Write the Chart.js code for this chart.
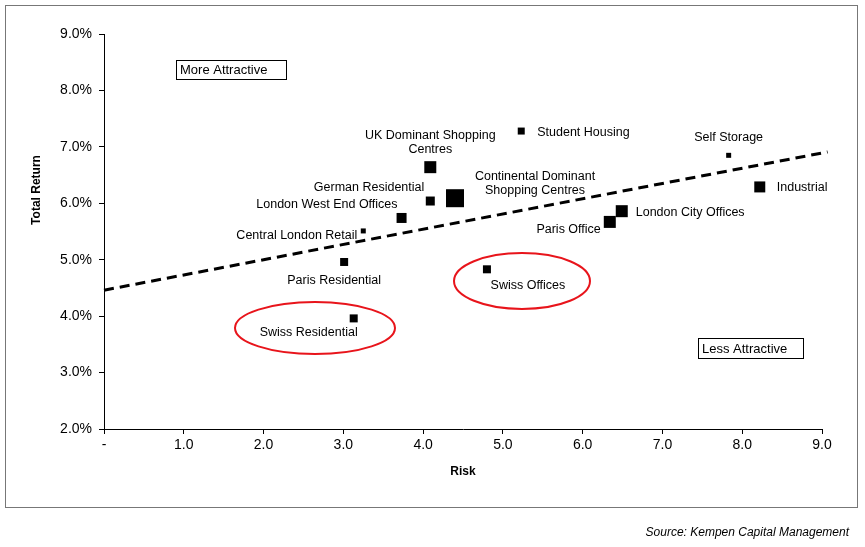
<!DOCTYPE html>
<html><head><meta charset="utf-8">
<script src="https://cdn.jsdelivr.net/npm/chart.js@4/dist/chart.umd.min.js"></script>
<style>html,body{margin:0;padding:0;background:#fff}#wrap{width:865px;height:547px}</style>
</head><body><div id="wrap"><canvas id="c"></canvas></div>
<script>
const sectors = ['UK Dominant Shopping\nCentres','Student Housing','Self Storage','Industrial','London City Offices','Paris Office',
  'Continental Dominant\nShopping Centres','German Residential','London West End Offices','Central London Retail',
  'Paris Residential','Swiss Offices','Swiss Residential'];
const risk = [4.09, 5.23, 7.83, 8.22, 6.49, 6.34, 4.40, 4.09, 3.73, 3.25, 3.01, 4.80, 3.13];
const totalReturn = [6.64, 7.28, 6.85, 6.29, 5.86, 5.67, 6.09, 6.04, 5.74, 5.51, 4.96, 4.83, 3.96];
const markerSide = [12, 7, 5, 11, 12, 12, 18, 9, 10, 5, 8, 8, 8];
const trendX = [0, 9.07];
const trendY = [4.46, 6.91];

// label placement: [dx, dy, align] in pixels from the marker
const labelPos = [
  [0, -32, 'center'], [16, 1, 'left'], [0, -18, 'center'], [17, 1, 'left'], [14, 1, 'left'], [-9, 8, 'right'],
  [80, -22, 'center'], [-6, -13, 'right'], [-4, -13, 'right'], [-6, 5, 'right'], [-10, 19, 'center'], [41, 16, 'center'], [-45, 14, 'center']
];

const decor = {
  id: 'decor',
  beforeDraw(chart) {
    const c = chart.ctx;
    c.save();
    c.fillStyle = '#fff'; c.fillRect(0, 0, chart.width, chart.height);
    c.strokeStyle = '#777'; c.lineWidth = 1;
    c.strokeRect(5.5, 5.5, 852, 502);
    c.restore();
  },
  afterDraw(chart) {
    const c = chart.ctx, xs = chart.scales.x, ys = chart.scales.y;
    c.save();
    c.fillStyle = '#000';
    c.font = '12.5px "Liberation Sans", Arial, sans-serif';
    c.textBaseline = 'middle';
    sectors.forEach((s, i) => {
      const px = xs.getPixelForValue(risk[i]), py = ys.getPixelForValue(totalReturn[i]);
      const [dx, dy, al] = labelPos[i];
      c.textAlign = al;
      s.split('\n').forEach((ln, k) => c.fillText(ln, px + dx, py + dy + k * 14));
    });
    // boxes
    const box = (txt, x, y, w, h) => {
      c.strokeStyle = '#000'; c.lineWidth = 1;
      c.strokeRect(x + 0.5, y + 0.5, w, h);
      c.textAlign = 'left'; c.fillText(txt, x + 4, y + h / 2 + 1);
    };
    c.font = '13px "Liberation Sans", Arial, sans-serif';
    box('More Attractive', 176, 60, 110, 19);
    box('Less Attractive', 698, 338, 105, 20);
    // ellipses
    c.strokeStyle = '#e8141b'; c.lineWidth = 2;
    c.beginPath(); c.ellipse(315, 328, 80, 26, 0, 0, Math.PI * 2); c.stroke();
    c.beginPath(); c.ellipse(522, 281, 68, 28, 0, 0, Math.PI * 2); c.stroke();
    // axis titles
    c.font = 'bold 12px "Liberation Sans", Arial, sans-serif';
    c.textAlign = 'center';
    c.fillText('Risk', 463, 472);
    c.save(); c.translate(37, 190); c.rotate(-Math.PI / 2); c.fillText('Total Return', 0, 0); c.restore();
    c.font = 'italic 12px "Liberation Sans", Arial, sans-serif';
    c.textAlign = 'right';
    c.fillText('Source: Kempen Capital Management', 849, 533);
    c.restore();
  }
};

new Chart(document.getElementById('c'), {
  type: 'scatter',
  data: {
    datasets: [{
      data: risk.map((r, i) => ({ x: r, y: totalReturn[i] })),
      pointStyle: 'rect',
      pointRadius: markerSide.map(s => s / Math.SQRT2),
      pointHoverRadius: markerSide.map(s => s / Math.SQRT2),
      backgroundColor: '#000', borderColor: '#000', borderWidth: 0
    }, {
      type: 'line',
      data: trendX.map((x, i) => ({ x, y: trendY[i] })),
      borderColor: '#000', borderWidth: 3, borderDash: [10, 6],
      pointRadius: 0, pointHoverRadius: 0, fill: false, clip: false
    }]
  },
  options: {
    responsive: true, maintainAspectRatio: false, animation: false,
    layout: { padding: { left: 0, right: 43, top: 34, bottom: 0 } },
    plugins: { legend: { display: false }, tooltip: { enabled: false } },
    scales: {
      x: {
        min: 0, max: 9,
        afterFit: s => { s.height = 118; },
        border: { color: '#000' },
        grid: { display: true, drawOnChartArea: false, tickLength: 5, color: '#000' },
        ticks: { stepSize: 1, color: '#000', font: { family: '"Liberation Sans", Arial', size: 14 },
          maxRotation: 0, callback: v => v === 0 ? '-' : v.toFixed(1) }
      },
      y: {
        min: 2, max: 9,
        afterFit: s => { s.width = 104; },
        border: { color: '#000' },
        grid: { display: true, drawOnChartArea: false, tickLength: 5, color: '#000' },
        ticks: { stepSize: 1, padding: 7, color: '#000', font: { family: '"Liberation Sans", Arial', size: 14 },
          callback: v => v.toFixed(1) + '%' }
      }
    }
  },
  plugins: [decor]
});
</script></body></html>
